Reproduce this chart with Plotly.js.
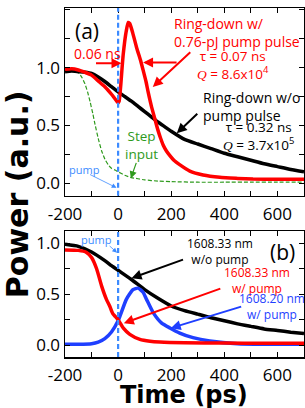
<!DOCTYPE html>
<html>
<head>
<meta charset="utf-8">
<script src="https://cdn.plot.ly/plotly-3.0.1.min.js"></script>
<style>html,body{margin:0;padding:0;background:#fff;}#chart{width:305px;height:408px;}</style>
</head>
<body>
<div id="chart"></div>
<script>
// ---- Panel (a) data ----
const aBlackT = [-200,-175,-150,-125,-100,-75,-50,-25,0,25,50,75,100,125,150,175,200,250,300,350,400,450,500,550,600,650,700];
const aBlackV = [0.965,0.97,0.965,0.96,0.95,0.92,0.88,0.835,0.79,0.75,0.71,0.665,0.62,0.575,0.53,0.49,0.45,0.38,0.34,0.30,0.26,0.23,0.20,0.17,0.145,0.12,0.10];

const aRedT = [-200,-175,-150,-125,-100,-75,-50,-25,-10,0,4,10,15,19,25,31,38,44,55,70,85,94,105,113,125,138,150,160,170,182,195,210,233,270,320,383,450,508,600,700];
const aRedV = [0.985,0.99,0.98,0.96,0.935,0.885,0.835,0.77,0.725,0.695,0.71,0.85,1.0,1.11,1.23,1.32,1.39,1.38,1.30,1.17,1.06,0.98,0.88,0.79,0.67,0.56,0.46,0.39,0.33,0.28,0.24,0.20,0.16,0.106,0.072,0.052,0.043,0.037,0.035,0.035];

const aGreenT = [-200,-175,-150,-135,-125,-115,-105,-95,-87,-75,-62,-50,-37,-25,-12,0,25,50,75,100,150,200,300,400,500,600,700];
const aGreenV = [1.0,0.995,0.96,0.91,0.86,0.79,0.70,0.60,0.51,0.39,0.28,0.21,0.16,0.13,0.115,0.10,0.07,0.05,0.04,0.03,0.02,0.015,0.01,0.01,0.01,0.01,0.01];

// ---- Panel (b) data ----
const bBlackT = [-200,-150,-100,-50,-25,0,50,100,150,200,250,300,350,400,450,500,550,600,650,700];
const bBlackV = [0.99,0.97,0.915,0.83,0.78,0.735,0.645,0.545,0.46,0.385,0.34,0.305,0.27,0.24,0.21,0.185,0.16,0.145,0.128,0.115];

const bRedT = [-200,-150,-119,-100,-81,-62,-44,-31,-20,-10,0,19,44,82,120,157,250,400,550,700];
const bRedV = [0.935,0.93,0.91,0.86,0.75,0.58,0.45,0.38,0.31,0.28,0.25,0.17,0.107,0.058,0.04,0.032,0.025,0.022,0.02,0.02];

const bBlueT = [-200,-150,-100,-75,-50,-25,0,31,56,75,94,107,132,163,195,232,282,345,450,550,700];
const bBlueV = [0.01,0.01,0.015,0.03,0.065,0.13,0.24,0.45,0.545,0.56,0.52,0.45,0.32,0.22,0.17,0.12,0.075,0.042,0.015,0.01,0.01];

// ---- ticks ----
const xTickVals = [-200,-100,0,100,200,300,400,500,600,700];
const xTickText = ['-200','','0','','200','','400','','600',''];
const yaTickVals = [0,0.25,0.5,0.75,1.0,1.25,1.5];
const yaTickText = ['0.0','','0.5','','1.0','','1.5'];
const ybTickVals = [0,0.25,0.5,0.75,1.0];
const ybTickText = ['0.0','','0.5','','1.0'];

const RED = '#ff0000', BLACK = '#000000', GREEN = '#2e9a1c', BLUE = '#1f3fff', LBLUE = '#3d8bff';
const TF = 'Open Sans, Arial, sans-serif';

function tr(x, y, xa, ya, color, width, dash) {
  return {x: x, y: y, xaxis: xa, yaxis: ya, type: 'scatter', mode: 'lines',
    line: {color: color, width: width, dash: dash || 'solid', shape: 'spline', smoothing: 0.5},
    hoverinfo: 'skip'};
}

const data = [
  tr(aGreenT, aGreenV, 'x', 'y', GREEN, 1.2, '4px,2px'),
  tr(aBlackT, aBlackV, 'x', 'y', BLACK, 3.5),
  tr(aRedT, aRedV, 'x', 'y', RED, 3.5),
  tr(bBlackT, bBlackV, 'x2', 'y2', BLACK, 3.5),
  tr(bBlueT, bBlueV, 'x2', 'y2', BLUE, 3.5),
  tr(bRedT, bRedV, 'x2', 'y2', RED, 3.5)
];

const axCommon = {
  showline: true, linecolor: '#000', linewidth: 1.5, mirror: 'ticks',
  ticks: 'inside', ticklen: 5, tickwidth: 1.2, tickcolor: '#000',
  showgrid: false, zeroline: false, fixedrange: true,
  tickfont: {family: TF, size: 17, color: '#000'}
};

function txt(x, y, xr, yr, text, color, size, anchor) {
  return {x: x, y: y, xref: xr, yref: yr, text: text, showarrow: false,
    xanchor: anchor || 'center', yanchor: 'middle', align: anchor || 'center',
    font: {family: TF, size: size, color: color}};
}
function arr(x, y, xr, yr, ax, ay, color, w, sz) {
  return {x: x, y: y, xref: xr, yref: yr, text: '', showarrow: true,
    ax: ax, ay: ay, arrowhead: 2, arrowsize: sz || 1, arrowwidth: w || 2,
    arrowcolor: color, standoff: 0, startstandoff: 0};
}
const Q = '<span style="font-family:Liberation Serif;font-style:italic">Q</span>';

const annotations = [
  // panel (a)
  txt(-116.7, 1.32, 'x', 'y', '(a)', BLACK, 21),
  txt(-78, 1.122, 'x', 'y', '0.06 ns', RED, 14),
  arr(12.8, 1.038, 'x', 'y', -27, 0, RED, 2, 1),
  arr(94, 1.045, 'x', 'y', 35, 0, RED, 2, 1),
  txt(203, 1.30, 'x', 'y', 'Ring-down w/<br>0.76-pJ pump pulse', RED, 14, 'left'),
  txt(432, 1.022, 'x', 'y', 'τ = 0.07 ns<br>' + Q + ' = 8.6x10<sup>4</sup>', RED, 13.5),
  arr(130.6, 0.833, 'x', 'y', 39, -36, RED, 2, 1),
  txt(313, 0.666, 'x', 'y', 'Ring-down w/o<br>pump pulse', BLACK, 14, 'left'),
  txt(530, 0.407, 'x', 'y', 'τ = 0.32 ns<br>' + Q + ' = 3.7x10<sup>5</sup>', BLACK, 13.5),
  arr(221, 0.4325, 'x', 'y', 22, -21, BLACK, 2, 1),
  txt(88, 0.333, 'x', 'y', 'Step<br>input', GREEN, 13.5),
  arr(47.8, 0.043, 'x', 'y', 6, -17, GREEN, 1.2, 1.2),
  txt(-126.5, 0.124, 'x', 'y', 'pump', LBLUE, 11),
  arr(-6, -0.038, 'x', 'y', -28, -14, LBLUE, 0.8, 1.2),
  // panel (b)
  txt(620, 0.918, 'x2', 'y2', '(b)', BLACK, 21),
  txt(383, 0.919, 'x2', 'y2', '1608.33 nm<br>w/o pump', BLACK, 12),
  arr(50.5, 0.658, 'x2', 'y2', 53, -19, BLACK, 2, 1),
  txt(522, 0.634, 'x2', 'y2', '1608.33 nm<br>w/ pump', RED, 12),
  arr(21.5, 0.217, 'x2', 'y2', 98, -35, RED, 2, 1),
  txt(578, 0.378, 'x2', 'y2', '1608.20 nm<br>w/ pump', BLUE, 12),
  arr(198, 0.168, 'x2', 'y2', 72, -22, BLUE, 2, 1),
  txt(-80, 1.035, 'x2', 'y2', 'pump', LBLUE, 11),
  arr(-3.8, 0.908, 'x2', 'y2', -9, -8, LBLUE, 0.8, 1.2),
  // axis titles
  {x: -0.2, y: 0.467, xref: 'paper', yref: 'paper', text: 'Power (a.u.)', showarrow: false,
   textangle: -90, xanchor: 'center', yanchor: 'middle',
   font: {family: 'DejaVu Sans, sans-serif', size: 30, color: '#000', weight: 'bold'}},
  {x: 0.498, y: -0.108, xref: 'paper', yref: 'paper', text: 'Time (ps)', showarrow: false,
   xanchor: 'center', yanchor: 'middle',
   font: {family: 'DejaVu Sans, sans-serif', size: 24, color: '#000', weight: 'bold'}}
];

const shapes = [
  {type: 'line', xref: 'x', yref: 'y domain', x0: 0, x1: 0, y0: 0, y1: 1,
   line: {color: LBLUE, width: 2.2, dash: '5px,3px'}},
  {type: 'line', xref: 'x2', yref: 'y2 domain', x0: 0, x1: 0, y0: 0, y1: 1,
   line: {color: LBLUE, width: 2.2, dash: '5px,3px'}}
];

const layout = {
  width: 305, height: 408,
  margin: {l: 65, r: 1, t: 8, b: 51, pad: 0},
  paper_bgcolor: '#fff', plot_bgcolor: '#fff',
  showlegend: false,
  xaxis: Object.assign({}, axCommon, {domain: [0, 1], anchor: 'y', range: [-200, 700],
    tickmode: 'array', tickvals: xTickVals, ticktext: xTickText, ticklabelstandoff: 2}),
  yaxis: Object.assign({}, axCommon, {domain: [0.462, 1], anchor: 'x', range: [-0.107, 1.515],
    tickmode: 'array', tickvals: yaTickVals, ticktext: yaTickText}),
  xaxis2: Object.assign({}, axCommon, {domain: [0, 1], anchor: 'y2', range: [-200, 700],
    tickmode: 'array', tickvals: xTickVals, ticktext: xTickText, ticklabelstandoff: 2}),
  yaxis2: Object.assign({}, axCommon, {domain: [0, 0.361], anchor: 'x2', range: [-0.115, 1.12],
    tickmode: 'array', tickvals: ybTickVals, ticktext: ybTickText}),
  annotations: annotations,
  shapes: shapes
};

Plotly.newPlot('chart', data, layout, {staticPlot: true, displayModeBar: false});
</script>
</body>
</html>
